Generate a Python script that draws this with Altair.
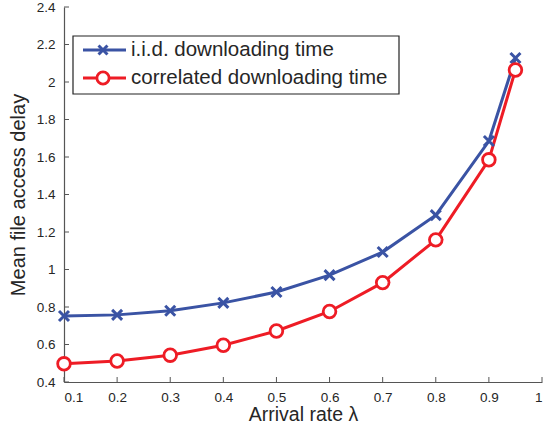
import altair as alt
import pandas as pd

lam = [0.1, 0.2, 0.3, 0.4, 0.5, 0.6, 0.7, 0.8, 0.9, 0.95]
iid = [0.752, 0.758, 0.78, 0.822, 0.88, 0.97, 1.093, 1.29, 1.685, 2.128]
corr = [0.497, 0.512, 0.543, 0.596, 0.672, 0.776, 0.93, 1.158, 1.585, 2.064]
series_names = ["i.i.d. downloading time", "correlated downloading time"]
x_ticks = [0.1, 0.2, 0.3, 0.4, 0.5, 0.6, 0.7, 0.8, 0.9, 1.0]
y_ticks = [0.4, 0.6, 0.8, 1.0, 1.2, 1.4, 1.6, 1.8, 2.0, 2.2, 2.4]

BLUE = "#3a53a4"
RED = "#ee1c25"
FONT = "Liberation Sans"
TXT = "#262626"
AX = "#555555"
W, H = 478, 375

df_iid = pd.DataFrame({"x": lam, "y": iid})
df_corr = pd.DataFrame({"x": lam, "y": corr})

xs = alt.Scale(domain=[0.1, 1.0], nice=False, zero=False)
ys = alt.Scale(domain=[0.4, 2.4], nice=False, zero=False)

xaxis = alt.Axis(values=x_ticks, title="Arrival rate λ",
                 labelExpr="datum.value == 1 ? '1' : format(datum.value, '.1f')",
                 grid=False, ticks=False, domainColor=AX, domainWidth=1.2, labelOverlap=False,
                 labelFont=FONT, labelFontSize=13.5, labelColor=TXT, labelPadding=8,
                 titleFont=FONT, titleFontSize=19.5, titleFontWeight="normal", titleColor=TXT, titlePadding=2)
yaxis = alt.Axis(values=y_ticks, title="Mean file access delay",
                 labelExpr="abs(datum.value - 1) < 1e-9 ? '1' : abs(datum.value - 2) < 1e-9 ? '2' : format(datum.value, '.1f')",
                 grid=False, ticks=False, domainColor=AX, domainWidth=1.2, labelOverlap=False,
                 labelSeparation=0, labelBound=False,
                 labelFont=FONT, labelFontSize=13.5, labelColor=TXT, labelPadding=9,
                 titleFont=FONT, titleFontSize=20, titleFontWeight="normal", titleColor=TXT, titlePadding=8)

X = alt.X("x:Q", scale=xs, axis=xaxis)
Y = alt.Y("y:Q", scale=ys, axis=yaxis)

X_PATH = "M-1,-1L1,1M-1,1L1,-1"

blue_line = alt.Chart(df_iid).mark_line(color=BLUE, strokeWidth=3).encode(x=X, y=Y)
blue_pts = alt.Chart(df_iid).mark_point(shape=X_PATH, color=BLUE, size=100, strokeWidth=3, filled=False, opacity=1).encode(x=X, y=Y)
red_line = alt.Chart(df_corr).mark_line(color=RED, strokeWidth=3).encode(x=X, y=Y)
red_pts = alt.Chart(df_corr).mark_point(shape="circle", color=RED, size=160, strokeWidth=2.8, filled=False, fill="white", opacity=1).encode(x=X, y=Y)

# inward ticks
xt = alt.Chart(pd.DataFrame({"x": x_ticks})).mark_rule(color=AX, strokeWidth=1).encode(
    x=X, y=alt.value(H), y2=alt.value(H - 5))
yt = alt.Chart(pd.DataFrame({"y": y_ticks})).mark_rule(color=AX, strokeWidth=1).encode(
    y=Y, x=alt.value(0), x2=alt.value(5))

# legend
one = pd.DataFrame({"a": [0]})
leg_box = alt.Chart(one).mark_rect(fill="white", stroke="#222222", strokeWidth=1.2).encode(
    x=alt.value(9), x2=alt.value(335), y=alt.value(29), y2=alt.value(87))
leg_l1 = alt.Chart(one).mark_rule(color=BLUE, strokeWidth=3).encode(
    x=alt.value(19), x2=alt.value(62), y=alt.value(43))
leg_l2 = alt.Chart(one).mark_rule(color=RED, strokeWidth=3).encode(
    x=alt.value(19), x2=alt.value(62), y=alt.value(71))
leg_p1 = alt.Chart(one).mark_point(shape=X_PATH, color=BLUE, size=80, strokeWidth=3, filled=False, opacity=1).encode(
    x=alt.value(39), y=alt.value(43))
leg_p2 = alt.Chart(one).mark_point(shape="circle", color=RED, size=150, strokeWidth=2.8, filled=False, fill="white", opacity=1).encode(
    x=alt.value(39), y=alt.value(71))
leg_t1 = alt.Chart(pd.DataFrame({"t": [series_names[0]]})).mark_text(
    align="left", baseline="middle", font=FONT, fontSize=20.5, color=TXT).encode(
    x=alt.value(67), y=alt.value(43), text="t:N")
leg_t2 = alt.Chart(pd.DataFrame({"t": [series_names[1]]})).mark_text(
    align="left", baseline="middle", font=FONT, fontSize=20.5, color=TXT).encode(
    x=alt.value(67), y=alt.value(71), text="t:N")

chart = alt.layer(
    blue_line, red_line, blue_pts, red_pts, xt, yt,
    leg_box, leg_l1, leg_l2, leg_p1, leg_p2, leg_t1, leg_t2
).properties(
    width=W, height=H,
    padding={"left": 64, "top": 7, "right": 14, "bottom": 50},
    autosize=alt.AutoSizeParams(type="none"),
    background="white",
).configure_view(stroke=None).configure_axis(labelOverlap=False)

chart.save("out.html", embed_options={"renderer": "svg", "actions": False})
